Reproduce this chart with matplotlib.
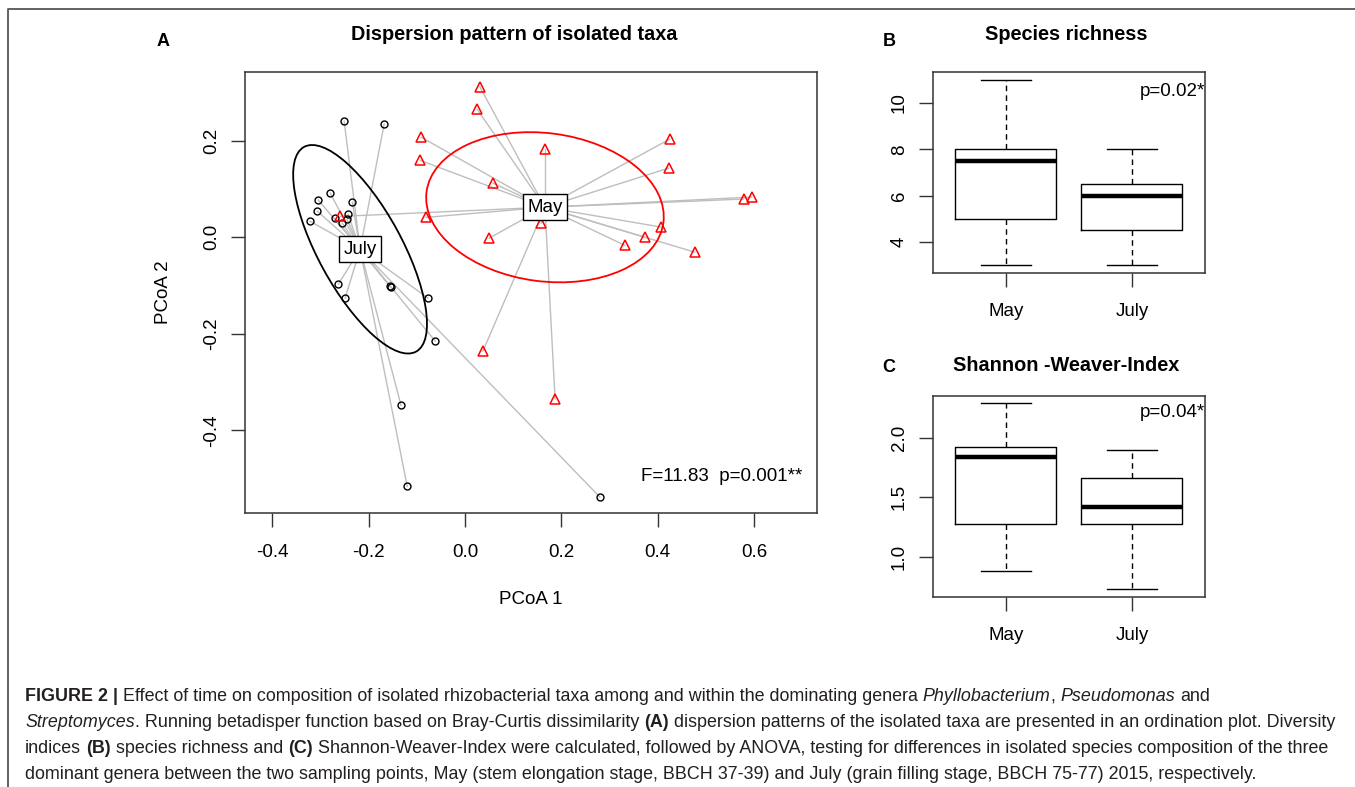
import matplotlib
matplotlib.use("Agg")
import matplotlib.pyplot as plt
from matplotlib.patches import Ellipse
from matplotlib.lines import Line2D

plt.rcParams['font.family'] = ['Liberation Sans', 'DejaVu Sans']
plt.rcParams['axes.unicode_minus'] = False

# ---- data ----
july_x = [-0.251, -0.168, -0.280, -0.305, -0.234, -0.307, -0.322, -0.270, -0.243, -0.245,
          -0.255, -0.263, -0.249, -0.156, -0.154, -0.077, -0.062, -0.133, -0.120, 0.280]
july_y = [0.240, 0.234, 0.091, 0.077, 0.072, 0.054, 0.033, 0.039, 0.048, 0.037,
          0.029, -0.097, -0.126, -0.101, -0.104, -0.126, -0.215, -0.348, -0.516, -0.538]
may_x = [0.031, 0.025, -0.091, -0.093, 0.058, 0.166, 0.425, 0.423, 0.579, 0.595,
         -0.081, 0.050, 0.158, 0.407, 0.373, 0.332, 0.477, 0.037, 0.187, -0.259]
may_y = [0.311, 0.265, 0.207, 0.159, 0.112, 0.182, 0.203, 0.143, 0.079, 0.083,
         0.041, -0.002, 0.029, 0.021, 0.000, -0.017, -0.031, -0.236, -0.335, 0.043]
july_centroid = (-0.218, -0.025)
may_centroid = (0.166, 0.062)
# sd ellipses: semi-major, semi-minor, angle (deg)
july_ellipse = (0.2417, 0.0866, -61.2)
may_ellipse = (0.248, 0.1534, -7.4)

pcoa_xticks = [-0.4, -0.2, 0.0, 0.2, 0.4, 0.6]
pcoa_yticks = [-0.4, -0.2, 0.0, 0.2]

groups = ['May', 'July']
# whislo, q1, med, q3, whishi
richness = {'May': (3, 5, 7.5, 8, 11), 'July': (3, 4.5, 6, 6.5, 8)}
shannon = {'May': (0.883, 1.276, 1.835, 1.919, 2.29), 'July': (0.732, 1.276, 1.419, 1.662, 1.896)}

W, H = 1355, 787
fig = plt.figure(figsize=(W / 100, H / 100), dpi=100)

FS = 13.5
gray_line = '#BEBEBE'

# ---- panel A ----
ax = fig.add_axes([245 / W, 1 - 513 / H, 572 / W, 441 / H])
for xs, ys, c in [(july_x, july_y, july_centroid), (may_x, may_y, may_centroid)]:
    for x, y in zip(xs, ys):
        ax.plot([x, c[0]], [y, c[1]], color=gray_line, lw=1, zorder=1)

for c, e, col in [(july_centroid, july_ellipse, 'black'), (may_centroid, may_ellipse, 'red')]:
    ax.add_patch(Ellipse(c, 2 * e[0], 2 * e[1], angle=e[2], fill=False,
                         ec=col, lw=1.3, zorder=2))

ax.plot(july_x, july_y, 'o', ms=5, mfc='none', mec='black', mew=1, zorder=3)
ax.plot(may_x, may_y, '^', ms=6.5, mfc='none', mec='red', mew=1.1, zorder=3)

for name, c in [('July', july_centroid), ('May', may_centroid)]:
    ax.text(c[0], c[1], name, ha='center', va='center', fontsize=FS, zorder=5,
            bbox=dict(boxstyle='square,pad=0.25', fc='white', ec='black', lw=1))

ax.text(0.974, 0.082, 'F=11.83  p=0.001**', transform=ax.transAxes, ha='right',
        va='center', fontsize=FS)

ax.set_xlim(-0.457, 0.731)
ax.set_ylim(-0.571, 0.342)
ax.set_xticks(pcoa_xticks)
ax.set_xticklabels(['%.1f' % v for v in pcoa_xticks])
ax.set_yticks(pcoa_yticks)
ax.set_yticklabels(['%.1f' % v for v in pcoa_yticks], rotation=90, va='center')
ax.tick_params(labelsize=FS, length=10, width=1, color='#333333', pad=12)
ax.tick_params(axis='y', pad=8)
ax.set_xlabel('PCoA 1', fontsize=FS, labelpad=22)
ax.set_ylabel('PCoA 2', fontsize=FS, labelpad=22)
for s in ax.spines.values():
    s.set_color('#333333')
    s.set_linewidth(1.1)


# ---- panels B and C ----
def boxpanel(rect, data, ylim, yticks, ylabels, ptext, py):
    bx = fig.add_axes(rect)
    stats = []
    for g in groups:
        lo, q1, med, q3, hi = data[g]
        stats.append(dict(whislo=lo, q1=q1, med=med, q3=q3, whishi=hi, label=g))
    bx.bxp(stats, positions=[1, 2], widths=0.8, showfliers=False, capwidths=0.4,
           boxprops=dict(color='black', lw=1),
           medianprops=dict(color='black', lw=3.2, solid_capstyle='butt'),
           whiskerprops=dict(color='black', lw=1, linestyle=(0, (4, 3))),
           capprops=dict(color='black', lw=1))
    bx.set_xlim(0.42, 2.58)
    bx.set_ylim(*ylim)
    bx.set_xticks([1, 2])
    bx.set_xticklabels(groups)
    bx.set_yticks(yticks)
    bx.set_yticklabels(ylabels, rotation=90, va='center')
    bx.tick_params(labelsize=FS, length=10, width=1, color='#333333', pad=12)
    bx.tick_params(axis='y', pad=8)
    bx.text(1.0, py, ptext, transform=bx.transAxes, ha='right', va='center', fontsize=FS)
    for s in bx.spines.values():
        s.set_color('#333333')
        s.set_linewidth(1.1)
    return bx


boxpanel([932.7 / W, 1 - 272.7 / H, 272.3 / W, 200.4 / H], richness, (2.68, 11.32),
         [4, 6, 8, 10], ['4', '6', '8', '10'], 'p=0.02*', 0.902)
boxpanel([932.7 / W, 1 - 596.7 / H, 272.3 / W, 201 / H], shannon, (0.67, 2.35),
         [1.0, 1.5, 2.0], ['1.0', '1.5', '2.0'], 'p=0.04*', 0.914)

# titles and panel letters
fig.text(514 / W, 1 - 35 / H, 'Dispersion pattern of isolated taxa', ha='center', va='center',
         fontsize=14.3, fontweight='bold')
fig.text(1066 / W, 1 - 35 / H, 'Species richness', ha='center', va='center',
         fontsize=14.3, fontweight='bold')
fig.text(1066 / W, 1 - 366 / H, 'Shannon -Weaver-Index', ha='center', va='center',
         fontsize=14.3, fontweight='bold')
for letter, (lx, ly) in {'A': (163, 41), 'B': (889, 41), 'C': (889, 368)}.items():
    fig.text(lx / W, 1 - ly / H, letter, ha='center', va='center', fontsize=13, fontweight='bold')

# outer frame (top and left edges)
fig.add_artist(Line2D([8 / W, 8 / W, 1.0], [0.0, 1 - 8.5 / H, 1 - 8.5 / H], color='#555555', lw=1.3))

# ---- caption with mixed styles ----
caption = [
    [('FIGURE 2 |', 'b'), (' Effect of time on composition of isolated rhizobacterial taxa among and within the dominating genera ', 'n'),
     ('Phyllobacterium', 'i'), (', ', 'n'), ('Pseudomonas', 'i'), (' and', 'n')],
    [('Streptomyces', 'i'), ('. Running betadisper function based on Bray-Curtis dissimilarity ', 'n'), ('(A)', 'b'),
     (' dispersion patterns of the isolated taxa are presented in an ordination plot. Diversity', 'n')],
    [('indices ', 'n'), ('(B)', 'b'), (' species richness and ', 'n'), ('(C)', 'b'),
     (' Shannon-Weaver-Index were calculated, followed by ANOVA, testing for differences in isolated species composition of the three', 'n')],
    [('dominant genera between the two sampling points, May (stem elongation stage, BBCH 37-39) and July (grain filling stage, BBCH 75-77) 2015, respectively.', 'n')],
]
cap_baselines = [701, 727, 753, 779]
CAP_FS = 12.9
cap_color = '#231f20'

renderer = fig.canvas.get_renderer()


def style_kw(st):
    kw = dict(fontsize=CAP_FS, color=cap_color)
    if st == 'b':
        kw['fontweight'] = 'bold'
    if st == 'i':
        kw['fontstyle'] = 'italic'
    return kw


def text_width(s, kw):
    t = fig.text(0, 0, s, **kw)
    w = t.get_window_extent(renderer=renderer).width
    t.remove()
    return w


for runs, base in zip(caption, cap_baselines):
    x = 25.0
    for s, st in runs:
        kw = style_kw(st)
        sp = text_width('a a', kw) - text_width('aa', kw)
        lead = len(s) - len(s.lstrip(' '))
        trail = len(s) - len(s.rstrip(' '))
        core = s.strip(' ')
        x += lead * sp
        t = fig.text(x / W, 1 - base / H, core, ha='left', va='baseline', **kw)
        x += t.get_window_extent(renderer=renderer).width + trail * sp

fig.savefig('out.png', dpi=100)
